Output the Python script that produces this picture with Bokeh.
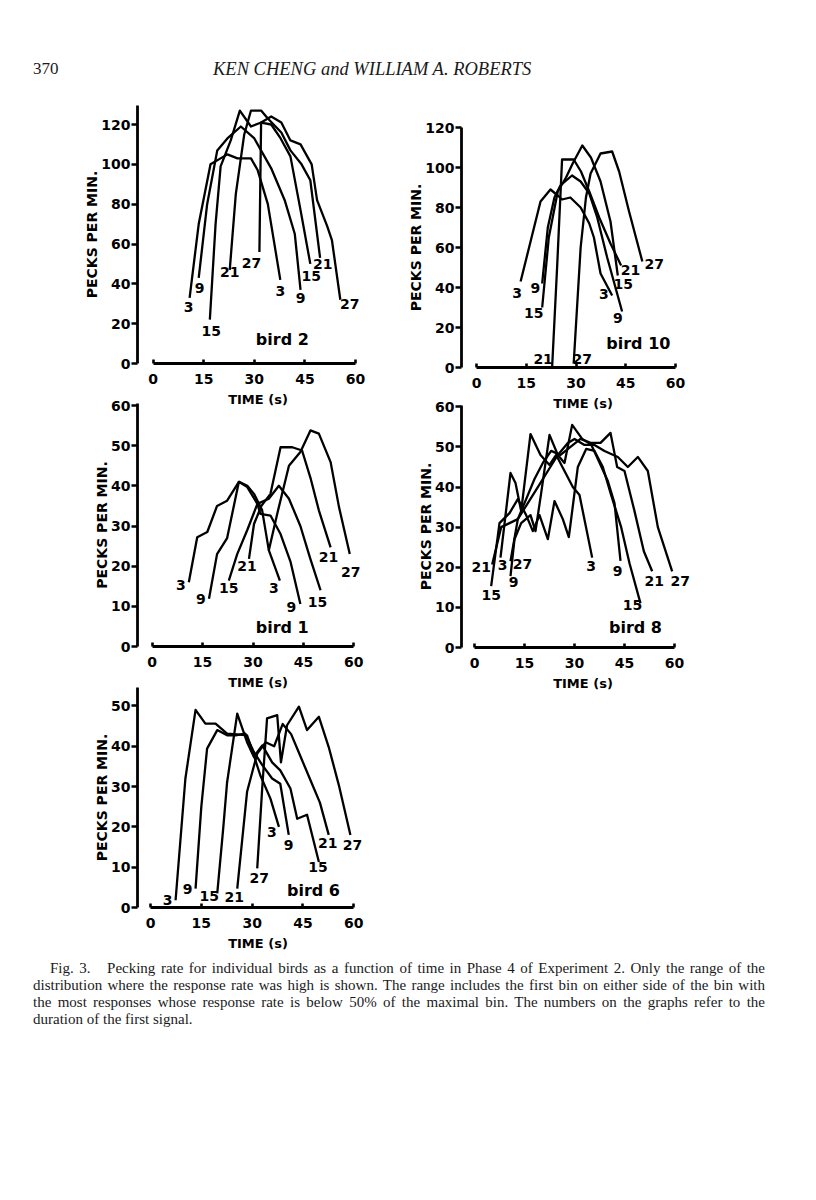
from bokeh.plotting import figure
from bokeh.layouts import column, row
from bokeh.models import Div
from bokeh.core.properties import value
from bokeh.embed import file_html
from bokeh.resources import INLINE

SIGNALS = [3, 9, 15, 21, 27]
X_TICKS = [0, 15, 30, 45, 60]
Y_TICKS_120 = [0, 20, 40, 60, 80, 100, 120]
Y_TICKS_60 = [0, 10, 20, 30, 40, 50, 60]
Y_TICKS_50 = [0, 10, 20, 30, 40, 50]

# ---------------- bird 2 ----------------
b2_t3 = [10.8, 13.5, 17.0, 22.0, 25.0, 29.0, 31.0, 34.0, 37.7]
b2_r3 = [33, 70, 100, 105, 103, 103, 97, 80, 42]
b2_t9 = [13.5, 16.0, 19.0, 22.0, 26.0, 30.0, 35.0, 39.0, 42.0, 43.7]
b2_r9 = [43, 80, 107, 113, 119, 113, 98, 82, 65, 37]
b2_t15 = [16.8, 18.5, 20.0, 23.0, 25.7, 29.0, 32.0, 35.0, 37.8, 40.7, 43.7, 46.6]
b2_r15 = [22, 70, 99, 112, 127, 119, 121, 120, 113, 104, 77, 50]
b2_t21 = [22.7, 24.5, 27.0, 29.0, 32.0, 34.0, 38.0, 40.7, 44.0, 46.6, 49.5]
b2_r21 = [47, 85, 115, 127, 127, 123, 116, 107, 100, 92, 53]
b2_t27 = [31.5, 32.0, 35.0, 38.0, 40.7, 43.7, 47.0, 48.6, 51.6, 53.0, 55.5]
b2_r27 = [56, 121, 124, 121, 112, 110, 100, 82, 69, 62, 32]

# ---------------- bird 10 ----------------
b10_t3 = [13.3, 16.3, 19.3, 22.3, 24.5, 25.8, 28.3, 31.4, 34.0, 35.4, 37.4, 40.9]
b10_r3 = [43, 63, 83, 89, 86, 84, 85, 80, 72, 65, 47, 36]
b10_t9 = [19.8, 21.5, 23.5, 25.3, 28.8, 31.4, 34.0, 36.4, 39.4, 43.9]
b10_r9 = [42, 70, 85, 91, 96, 93, 87, 75, 55, 28]
b10_t15 = [19.8, 21.8, 24.5, 27.0, 29.0, 31.9, 34.5, 37.4, 40.4, 42.6]
b10_r15 = [30, 65, 88, 95, 102, 111, 105, 93, 73, 46]
b10_t21 = [22.8, 24.3, 25.8, 29.3, 31.5, 34.0, 37.0, 40.4, 43.6]
b10_r21 = [0, 50, 104, 104, 98, 88, 75, 62, 51]
b10_t27 = [29.3, 31.4, 33.0, 34.4, 37.4, 40.9, 43.0, 46.0, 50.0]
b10_r27 = [2, 60, 85, 97, 107, 108, 98, 78, 53]

# ---------------- bird 1 ----------------
b1_t3 = [10.9, 13.4, 16.4, 19.3, 22.3, 25.8, 28.3, 30.3, 32.7, 34.7, 38.0]
b1_r3 = [16, 27.2, 28.5, 35, 36.3, 41, 40, 38, 34, 24, 16.4]
b1_t9 = [16.9, 19.3, 22.3, 25.8, 28.3, 31.3, 32.2, 35.2, 38.2, 41.2, 44.1]
b1_r9 = [11.9, 23, 27, 41, 39.7, 35.5, 33, 32.6, 28, 21, 10.6]
b1_t15 = [22.8, 25.3, 28.3, 31.3, 34.7, 37.7, 40.7, 44.1, 47.0, 50.1]
b1_r15 = [16.4, 23, 29, 35.5, 36.8, 40, 36.8, 30, 22, 14]
b1_t21 = [28.8, 30.3, 32.5, 35.2, 38.2, 41.7, 44.6, 47.1, 49.6, 53.1]
b1_r21 = [21.8, 30.5, 35, 38, 49.6, 49.6, 48.8, 42, 33.9, 24.7]
b1_t27 = [34.7, 37.2, 40.7, 44.1, 47.1, 49.6, 53.1, 55.6, 58.8]
b1_r27 = [23.9, 33, 45, 48.4, 53.8, 53, 45.9, 34.7, 23]

# ---------------- bird 8 ----------------
b8_t3 = [7.8, 10.8, 12.3, 14.0, 16.8, 19.8, 22.5, 24.5, 27.0, 29.5, 31.5, 35.3]
b8_r3 = [22.4, 43.5, 41, 34, 53.2, 48, 45.5, 48, 44, 40, 38, 22.4]
b8_t9 = [10.8, 12.0, 14.0, 16.8, 18.3, 20.0, 22.5, 25.0, 27.0, 29.3, 32.3, 35.0, 37.0, 40.0, 42.0, 43.8]
b8_r9 = [17.8, 27, 31, 33, 29, 38.5, 53, 48, 46, 55.5, 52, 50.6, 47, 41.5, 36, 21.6]
b8_t15 = [5.0, 7.5, 10.5, 13.0, 15.5, 17.5, 19.5, 22.0, 24.0, 26.5, 28.3, 31.0, 33.5, 36.0, 38.5, 41.0, 44.0, 46.5, 49.8]
b8_r15 = [15.3, 31, 33.5, 37, 33, 29, 33, 27, 36.5, 32, 27.5, 45, 49.5, 49, 45, 38, 30, 21, 11]
b8_t21 = [5.3, 8.0, 10.5, 13.0, 15.5, 18.0, 20.5, 23.0, 25.8, 28.8, 31.8, 34.8, 37.8, 40.8, 42.8, 45.0, 48.0, 50.8, 53.3]
b8_r21 = [20.7, 30, 31, 32, 37, 42, 46, 49, 48, 50, 52, 51, 51, 53.5, 45, 44, 34, 24, 19]
b8_t27 = [10.8, 13.0, 16.0, 19.0, 22.0, 25.0, 28.0, 30.0, 33.0, 36.0, 39.0, 43.0, 46.0, 49.0, 52.0, 55.0, 59.3]
b8_r27 = [21.5, 32, 36, 40, 44, 48, 51, 52, 50.5, 50.5, 49, 47.5, 45, 47.5, 44, 30, 19]

# ---------------- bird 6 ----------------
b6_t3 = [7.4, 10.3, 13.3, 16.2, 19.2, 22.6, 26.5, 28.5, 30.0, 32.4, 35.4, 37.9]
b6_r3 = [1.8, 32, 49, 45.6, 45.6, 43.1, 42.9, 42.7, 39, 32.8, 27, 20]
b6_t9 = [13.3, 15.0, 16.7, 19.7, 22.6, 25.1, 28.0, 30.5, 33.0, 35.9, 38.3, 40.8]
b6_r9 = [4.7, 25, 39.4, 44, 42.7, 42.7, 43.1, 38.6, 35.3, 32, 30.7, 18]
b6_t15 = [19.7, 21.5, 22.6, 25.6, 28.5, 30.5, 33.0, 35.9, 38.3, 41.3, 43.3, 46.2, 49.7]
b6_r15 = [3.5, 20, 31, 48.1, 41, 37.4, 40.2, 36, 34, 29.5, 22, 23, 11.3]
b6_t21 = [25.6, 28.5, 31.5, 34.0, 36.5, 39.0, 41.5, 44.0, 47.0, 50.0, 52.6]
b6_r21 = [4.7, 28.7, 38.2, 41, 40, 45.5, 43, 38, 32, 26, 18]
b6_t27 = [31.5, 33.0, 34.4, 37.4, 38.5, 40.3, 43.8, 46.2, 49.7, 52.6, 55.6, 59.0]
b6_r27 = [9.7, 30, 46.9, 47.7, 36, 45.2, 49.8, 44, 47.3, 39.8, 30.3, 18]

CAPTION_LINES = [
    "Fig. 3.&nbsp;&nbsp; Pecking rate for individual birds as a function of time in Phase 4 of Experiment 2. Only the range of the",
    "distribution where the response rate was high is shown. The range includes the first bin on either side of the bin with",
    "the most responses whose response rate is below 50% of the maximal bin. The numbers on the graphs refer to the",
    "duration of the first signal.",
]

# ---------------- layout (page pixels; layout origin at page (8, 8)) ----------------
FONT = "DejaVu Sans"


def build_panel(name, curves, yticks, geom, start_nudge, end_nudge, start_show, bird_at):
    left, top, right, bottom = geom["box"]
    ax = geom["axis_x"]
    x0, x60 = geom["x0"], geom["x60"]
    y0 = geom["y0"]
    ytv, ytp = geom["ytick"]
    ytop_px = geom["ytop"]
    pps = (x60 - x0) / 60.0
    ppu = (y0 - ytp) / ytv
    mb_left = int(round(ax - left))
    mb_right = 6
    mb_top = int(round(ytop_px - top))
    mb_bottom = int(round(bottom - y0))
    W, H = right - left, bottom - top
    frame_w = W - mb_left - mb_right
    frame_h = H - mb_top - mb_bottom
    xs = -(x0 - ax) / pps
    xe = xs + frame_w / pps
    ye = frame_h / ppu

    p = figure(width=W, height=H, x_range=(xs, xe), y_range=(0, ye),
               output_backend="svg", toolbar_location=None,
               min_border_left=mb_left, min_border_right=mb_right,
               min_border_top=mb_top, min_border_bottom=mb_bottom,
               background_fill_color=None, border_fill_color=None,
               outline_line_color=None, margin=geom.get("margin", (0, 0, 0, 0)))
    p.xgrid.visible = False
    p.ygrid.visible = False
    xa, ya = p.xaxis[0], p.yaxis[0]
    xa.ticker = X_TICKS
    xa.bounds = (0, 60)
    ya.ticker = yticks
    ya.bounds = (0, ye)
    for a in (xa, ya):
        a.axis_line_width = 2.8
        a.axis_line_color = "black"
        a.major_tick_line_width = 2.6
        a.major_tick_line_color = "black"
        a.minor_tick_line_color = None
        a.major_label_text_font = FONT
        a.major_label_text_font_style = "bold"
        a.major_label_text_font_size = "14px"
        a.major_label_text_color = "black"
        a.axis_label_text_font = FONT
        a.axis_label_text_font_style = "bold"
        a.axis_label_text_color = "black"
    xa.major_tick_in = 4
    xa.major_tick_out = 0
    ya.major_tick_in = 0
    ya.major_tick_out = 6
    xa.axis_label = "TIME (s)"
    xa.axis_label_text_font_size = "13px"
    xa.major_label_standoff = 10
    xa.axis_label_standoff = 5
    ya.axis_label = "PECKS PER MIN."
    ya.axis_label_text_font_size = "14px"
    ya.major_label_standoff = 1
    ya.axis_label_standoff = -2

    lx, ly, lt = [], [], []
    for k, (sig, (t, r)) in enumerate(zip(SIGNALS, curves)):
        p.line(t, r, line_color="black", line_width=2.3, line_join="round")
        if start_show[k]:
            dx, dy = start_nudge[k]
            lx.append(t[0] + dx / pps)
            ly.append(r[0] - dy / ppu)
            lt.append(str(sig))
        dx, dy = end_nudge[k]
        lx.append(t[-1] + dx / pps)
        ly.append(r[-1] - dy / ppu)
        lt.append(str(sig))
    p.text(x=lx, y=ly, text=lt, text_font=value(FONT), text_font_style="bold",
           text_font_size="14px", text_align="center", text_baseline="middle",
           text_color="black")
    p.text(x=[bird_at[0]], y=[bird_at[1]], text=[name], text_font=value(FONT),
           text_font_style="bold", text_font_size="16px", text_align="center",
           text_baseline="middle", text_color="black")
    return p


ALL = [True] * 5

p2 = build_panel(
    "bird 2",
    [(b2_t3, b2_r3), (b2_t9, b2_r9), (b2_t15, b2_r15), (b2_t21, b2_r21), (b2_t27, b2_r27)],
    Y_TICKS_120,
    dict(box=(8, 95, 384, 420), axis_x=137, x0=152.7, x60=355, y0=363, ytick=(120, 124), ytop=105),
    [(-1, 9.5), (1, 10), (1.5, 11), (0, 2.5), (-8, 11)],
    [(0, 11.5), (0, 8), (1, 12), (2.7, 6), (9.5, 4.7)],
    ALL, (38.3, 12))

p10 = build_panel(
    "bird 10",
    [(b10_t3, b10_r3), (b10_t9, b10_r9), (b10_t15, b10_r15), (b10_t21, b10_r21), (b10_t27, b10_r27)],
    Y_TICKS_120,
    dict(box=(384, 95, 710, 420), axis_x=461, x0=476, x60=675, y0=366.7, ytick=(120, 126.7), ytop=126.7),
    [(-3.4, 11), (-6.7, 4), (-8.4, 5), (-9, -8.4), (8.5, -4.4)],
    [(-8.4, -1.4), (-4.3, 6), (5.4, 8.6), (9.4, 4.6), (12, 2.6)],
    ALL, (48.8, 11.8))

p1 = build_panel(
    "bird 1",
    [(b1_t3, b1_r3), (b1_t9, b1_r9), (b1_t15, b1_r15), (b1_t21, b1_r21), (b1_t27, b1_r27)],
    Y_TICKS_60,
    dict(box=(8, 396, 384, 700), axis_x=137, x0=151.7, x60=353.3, y0=646, ytick=(60, 405), ytop=403,
         margin=(-24, 0, 0, 0)),
    [(-8, 3), (-8, 0), (0, 7), (-2, 7), (0, 0)],
    [(-6, 7), (-9, 3), (-3, 12), (-2, 10), (1, 18)],
    [True, True, True, True, False], (38.7, 4.7))

p8 = build_panel(
    "bird 8",
    [(b8_t3, b8_r3), (b8_t9, b8_r9), (b8_t15, b8_r15), (b8_t21, b8_r21), (b8_t27, b8_r27)],
    Y_TICKS_60,
    dict(box=(384, 396, 710, 700), axis_x=461, x0=474, x60=674, y0=646.7, ytick=(60, 406), ytop=405,
         margin=(-24, 0, 0, 0)),
    [(2, 7), (3, 6), (0, 9), (-11, 3), (12, 3)],
    [(-1, 8), (-3, 10), (-8, 2), (2, 10), (8, 10)],
    ALL, (48.3, 4.9))

p6 = build_panel(
    "bird 6",
    [(b6_t3, b6_r3), (b6_t9, b6_r9), (b6_t15, b6_r15), (b6_t21, b6_r21), (b6_t27, b6_r27)],
    Y_TICKS_50,
    dict(box=(8, 682, 384, 960), axis_x=137, x0=150, x60=353.3, y0=907.3, ytick=(50, 705.7), ytop=687,
         margin=(-18, 0, 0, 0)),
    [(-8, 0), (-8, 0), (-8, 3), (-3, 8), (2, 10)],
    [(-7, 5), (0, 10), (-1, 5), (-1, 8), (2, 10)],
    ALL, (48.1, 4.3))

header = Div(
    text=('<div style="position:relative;width:800px;height:87px;'
          'font-family:\'Liberation Serif\',serif;color:#1a1a1a;">'
          '<span style="position:absolute;left:25px;top:49px;font-size:17px;">370</span>'
          '<span style="position:absolute;left:205px;top:48px;font-size:18.5px;font-style:italic;">'
          'KEN CHENG and WILLIAM A. ROBERTS</span></div>'),
    width=800, height=87, margin=(0, 0, 0, 0))

line_divs = []
for i, ln in enumerate(CAPTION_LINES):
    last = i == len(CAPTION_LINES) - 1
    style = "height:17px;line-height:17px;overflow:hidden;"
    if i == 0:
        style += "padding-left:17px;"
    if not last:
        style += "text-align:justify;text-align-last:justify;"
    line_divs.append('<div style="%s">%s</div>' % (style, ln))
caption = Div(
    text=('<div style="padding:10px 0 0 25px;width:757px;font-family:\'Liberation Serif\',serif;'
          'font-size:15px;color:#1a1a1a;">' + "".join(line_divs) + '</div>'),
    width=800, height=90, margin=(-10, 0, 0, 0))

left_col = column(p2, p1, p6, margin=(0, 0, 0, 0))
right_col = column(p10, p8, margin=(0, 0, 0, 0))
panels = row(left_col, right_col, margin=(0, 0, 0, 0))
layout = column(header, panels, caption, margin=(8, 0, 0, 8))

open("out.html", "w").write(file_html(layout, INLINE))
